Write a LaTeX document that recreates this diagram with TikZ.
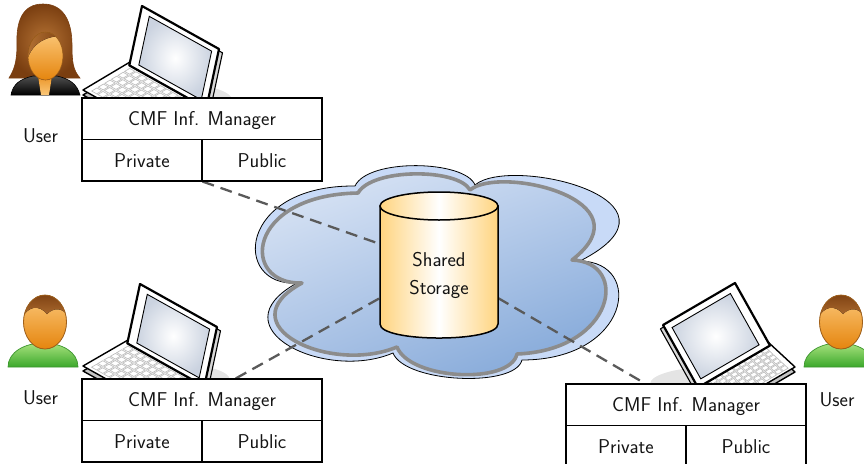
\documentclass[tikz,border=0pt]{standalone}
\usetikzlibrary{calc,shadings}
\pgfdeclarelayer{cloudlayer}
\pgfdeclarelayer{linklayer}
\pgfsetlayers{cloudlayer,linklayer,main}

\definecolor{cloudback}{HTML}{C8DAF7}
\definecolor{cloudrim}{HTML}{8C8C8C}
\definecolor{cloudUL}{HTML}{E6EDF8}
\definecolor{cloudUR}{HTML}{B8CDEC}
\definecolor{cloudLL}{HTML}{A8C1E5}
\definecolor{cloudLR}{HTML}{739DD3}
\definecolor{cylside}{HTML}{FFD47F}
\definecolor{linkgray}{HTML}{5A5A5A}
\definecolor{shadowgray}{HTML}{E4E4E4}
\definecolor{kbside}{HTML}{C4C4C4}
\definecolor{lidside}{HTML}{D8D8D8}
\definecolor{screenblue}{HTML}{CBD3E0}
\definecolor{keyline}{HTML}{C0C0C0}
\definecolor{skinlight}{HTML}{FBC778}
\definecolor{skindark}{HTML}{E5850E}
\definecolor{skinline}{HTML}{A0601B}
\definecolor{hairdark}{HTML}{7A3E10}
\definecolor{hairlight}{HTML}{B47234}
\definecolor{greenlight}{HTML}{A8E27E}
\definecolor{greendark}{HTML}{3BA82B}
\definecolor{greenline}{HTML}{3C962E}
\definecolor{jacketlight}{HTML}{505050}
\definecolor{textgray}{HTML}{141414}

% laptop: #1 hinge corner, #2 hinge vector, #3 lid vector, #4 base depth vector, #5 shadow centre
\newcommand\laptopicon[5]{%
  \fill[shadowgray] (#5) ellipse [x radius=62, y radius=17];
  \begin{scope}[shift={(#1)}, x={#2}, y={#4}]
    \draw[line width=1.4pt, fill=kbside, line join=round, yshift=-5pt]
      (0,0) -- (1,0) -- (1,1) -- (0,1) -- cycle;
    \draw[line width=1.4pt, fill=white, line join=round]
      (0,0) -- (1,0) -- (1,1) -- (0,1) -- cycle;
    \foreach \i in {0,...,10} {
      \foreach \j in {0,...,5} {
        \draw[keyline, line width=0.7pt]
          ({0.07+0.08*\i},{0.12+0.14*\j}) -- ++(0.065,0) -- ++(0,0.11) -- ++(-0.065,0) -- cycle;
      }
    }
  \end{scope}
  \begin{scope}[shift={(#1)}, x={#2}, y={#3}]
    \draw[line width=1.1pt, fill=lidside, line join=round]
      (0.03,-0.06) -- (1.05,-0.06) -- (1.05,0.97) -- (0.03,0.97) -- cycle;
    \draw[line width=2.2pt, fill=white, line join=round]
      (0,-0.06) -- (1,-0.06) -- (1,1) -- (0,1) -- cycle;
    \draw[line width=0.9pt, inner color=white, outer color=screenblue]
      (0.11,0.03) -- (0.92,0.03) -- (0.92,0.9) -- (0.11,0.9) -- cycle;
  \end{scope}}

% male user icon, #1 = centre of the head
\newcommand\manicon[1]{%
  \begin{scope}[shift={(#1)}]
    \draw[greenline, line width=0.7pt, top color=greenlight, bottom color=greendark]
      (-37,45) .. controls (-37,30) and (-20,21) .. (-2,21)
      .. controls (17,21) and (33,30) .. (33,45) -- cycle;
    \fill[top color=skinlight, bottom color=skindark] (0,0) ellipse [x radius=21.5, y radius=27];
    \begin{scope}
      \clip (0,0) ellipse [x radius=21.5, y radius=27];
      \fill[top color=hairdark, bottom color=hairlight]
        (-24,-2) .. controls (-18,-16) and (-6,-18) .. (2,-8)
        .. controls (8,-14) and (18,-16) .. (24,-4) -- (24,-30) -- (-24,-30) -- cycle;
    \end{scope}
    \draw[skinline, line width=0.8pt] (0,0) ellipse [x radius=21.5, y radius=27];
  \end{scope}}

\begin{document}
\begin{tikzpicture}[x=1pt, y=-1pt,
  every node/.style={font=\sffamily\fontsize{20}{24}\selectfont, text=textgray},
  cell/.style={draw=black, line width=1.1pt, fill=white, minimum height=41.5pt,
    inner sep=0pt, text height=17pt, text depth=3.1pt},
  wide/.style={cell, minimum width=240pt},
  half/.style={cell, minimum width=120pt},
  link/.style={draw=linkgray, line width=2.3pt, dash pattern=on 12pt off 7pt},
  userlabel/.style={inner sep=0pt},
]
\useasboundingbox (0,0) rectangle (864,463);
\clip (0,0) rectangle (864,463);

% ---------- cloud ----------
\begin{pgfonlayer}{cloudlayer}
\draw[line width=0.8pt, fill=cloudback]
  (297,283) .. controls (232,287) and (237,185) .. (355,186)
  .. controls (368,158) and (465,160) .. (475,185)
  .. controls (510,155) and (700,200) .. (580,261)
  .. controls (645,262) and (630,360) .. (522,360)
  .. controls (515,388) and (405,383) .. (393,353)
  .. controls (325,382) and (215,328) .. cycle;
\draw[draw=cloudrim, line width=3.6pt, line join=round,
      upper left=cloudUL, upper right=cloudUR, lower left=cloudLL, lower right=cloudLR]
  (302,283) .. controls (240,285) and (245,195) .. (358,193)
  .. controls (372,168) and (458,168) .. (470,190)
  .. controls (500,165) and (650,200) .. (572,260)
  .. controls (630,262) and (615,350) .. (517,354)
  .. controls (510,385) and (410,380) .. (397,347)
  .. controls (330,375) and (225,325) .. cycle;
\end{pgfonlayer}

% ---------- shared storage ----------
\draw[line width=1.5pt, left color=cylside, right color=cylside, middle color=white]
  (380,206) -- (380,324) .. controls (380,342.7) and (498,342.7) .. (498,324) -- (498,206) -- cycle;
\draw[line width=1.5pt, left color=cylside, right color=cylside, middle color=white]
  (439,206) ellipse [x radius=59, y radius=14];
\node[align=center, font=\sffamily\fontsize{20}{27.5}\selectfont] (store) at (439,275.4) {Shared\\Storage};
\coordinate (cylA) at (380,244);
\coordinate (cylB) at (380,298);
\coordinate (cylC) at (498,298);

% ---------- laptops ----------
\laptopicon{130,62}{(77pt,-43pt)}{(12pt,56pt)}{(-47pt,-28pt)}{170,100}
\laptopicon{128,340}{(77pt,-43pt)}{(12pt,56pt)}{(-45pt,-26pt)}{168,380}
\laptopicon{768,342}{(-72pt,-42pt)}{(-33pt,59pt)}{(27pt,-25pt)}{712,384}

% ---------- users ----------
% female user
\draw[draw=hairdark, line width=0.6pt, inner color=hairlight, outer color=hairdark]
  (43,4) .. controls (22,4) and (16,22) .. (17,45) .. controls (17,62) and (14,70) .. (9,78)
  -- (80,78) .. controls (73,70) and (72,62) .. (72,45) .. controls (72,22) and (64,4) .. (43,4) -- cycle;
\draw[draw=black, line width=0.6pt, top color=jacketlight, bottom color=black]
  (11,95) .. controls (13,84) and (20,79) .. (33,76) -- (57,76)
  .. controls (70,79) and (77,84) .. (80,95) -- cycle;
\fill[top color=skindark, bottom color=skinlight] (37,70) -- (53,70) -- (49,95) -- (41,95) -- cycle;
\fill[top color=skinlight, bottom color=skindark] (45.5,56) ellipse [x radius=17.5, y radius=24];
\begin{scope}
  \clip (45.5,56) ellipse [x radius=17.5, y radius=24];
  \fill[left color=hairlight, right color=hairdark]
    (26,64) .. controls (30,45) and (44,35) .. (66,36) -- (66,28) -- (26,28) -- cycle;
\end{scope}
\draw[skinline, line width=0.6pt] (45.5,56) ellipse [x radius=17.5, y radius=24];

% male users
\manicon{45,322}
\manicon{841,322}

\node[userlabel] (u1) at (40.5,136) {User};
\node[userlabel] (u2) at (40.5,398) {User};
\node[userlabel] (u3) at (837,400) {User};

% ---------- information manager boxes ----------
\node[wide] (h1) at (202,118.75) {CMF Inf. Manager};
\node[half] (pr1) at (142,160.25) {Private};
\node[half] (pu1) at (262,160.25) {Public};

\node[wide] (h2) at (202,399.75) {CMF Inf. Manager};
\node[half] (pr2) at (142,441.25) {Private};
\node[half] (pu2) at (262,441.25) {Public};

\node[wide] (h3) at (686,404.75) {CMF Inf. Manager};
\node[half] (pr3) at (626,446.25) {Private};
\node[half] (pu3) at (746,446.25) {Public};

\coordinate (l2) at ($(h2.north west)!0.64!(h2.north east)$);
\coordinate (l3) at ($(h3.north west)!0.33!(h3.north east)$);

% ---------- links to the shared storage ----------
\begin{pgfonlayer}{linklayer}
\draw[link] (pr1.south east) -- (cylA);
\draw[link] (l2) -- (cylB);
\draw[link] (cylC) -- (l3);
\end{pgfonlayer}
\end{tikzpicture}
\end{document}
